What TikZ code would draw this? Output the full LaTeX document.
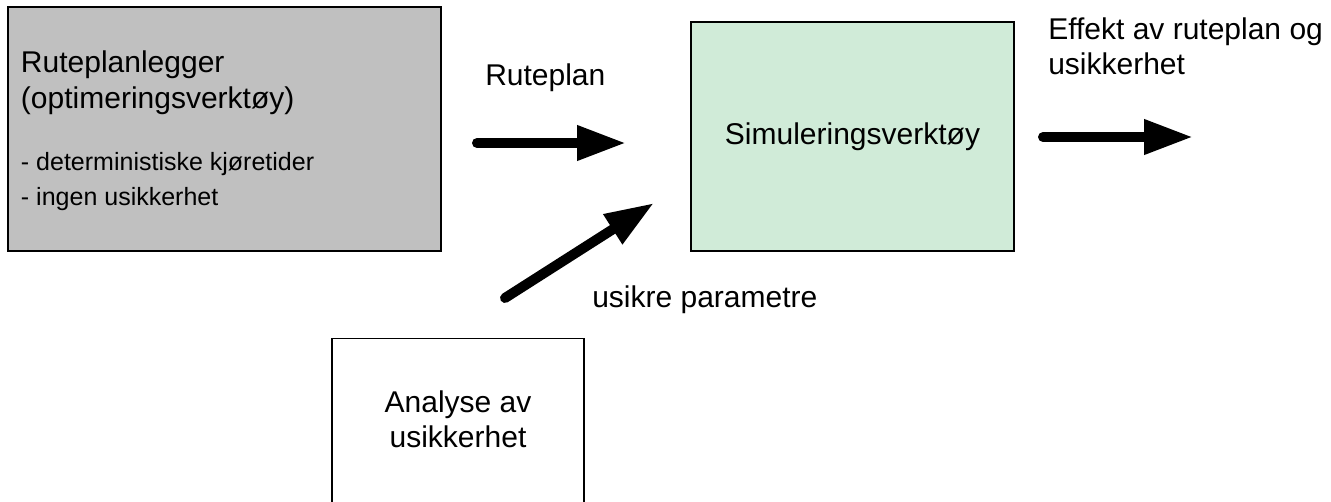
\documentclass[tikz,border=0pt]{standalone}
\usepackage{fontspec}
\setmainfont{Liberation Sans}
\usetikzlibrary{arrows.meta}
\definecolor{plangray}{RGB}{192, 192, 192}
\definecolor{simgreen}{RGB}{208, 235, 216}
\newcommand{\storfont}{\fontsize{22.5pt}{26.25pt}\selectfont}
\newcommand{\litenfont}{\fontsize{18.75pt}{21pt}\selectfont}
\tikzset{
  boks/.style={draw=black, line width=1pt, inner sep=0pt},
  etikett/.style={inner sep=0pt},
  pil/.style={line width=7.5pt, line cap=round, -{Triangle[length=36.75pt, width=24.75pt]}},
}

\begin{document}
\begin{tikzpicture}[x=0.75pt, y=-0.75pt, font=\storfont]
  \useasboundingbox (0,0) rectangle (1331,501);

  % bokser
  \node[boks, fill=plangray, minimum width=324.75pt, minimum height=183pt,
        text width=305.25pt, inner xsep=9.75pt, align=flush left] (planlegger) at (224.5,129)
    {\fontsize{22.5pt}{27pt}\selectfont\rule{0pt}{18.75pt}Ruteplanlegger\par (optimeringsverktøy)\par
     \vspace{25.5pt}
     \litenfont - deterministiske kjøretider\par - ingen usikkerhet};
  \node[boks, fill=simgreen, minimum width=242.25pt, minimum height=171.75pt] (simulering) at (852.5,136.5)
    {Simuleringsverktøy};
  \node[boks, minimum width=189pt, minimum height=150pt, anchor=north] (analyse) at (458,338) {};
  \node[etikett, align=center] (analysetekst) at (458,419) {Analyse av\\usikkerhet};

  % tekst ved pilene
  \node[etikett, anchor=base west] (ruteplan) at (485,85) {Ruteplan};
  \node[etikett, anchor=base west] (parametre) at (592,307) {usikre parametre};
  \node[etikett, anchor=north west, align=left] (effekt) at (1048,17) {Effekt av ruteplan og\\usikkerhet};

  % piler
  \coordinate (plan-fra) at (477,143);
  \coordinate (plan-til) at (626,143);
  \coordinate (usikker-fra) at (505,298);
  \coordinate (usikker-til) at (654,203);
  \coordinate (effekt-fra) at (1043,137);
  \coordinate (effekt-til) at (1193,137);
  \draw[pil] (plan-fra) -- (plan-til);
  \draw[pil] (usikker-fra) -- (usikker-til);
  \draw[pil] (effekt-fra) -- (effekt-til);
\end{tikzpicture}
\end{document}
